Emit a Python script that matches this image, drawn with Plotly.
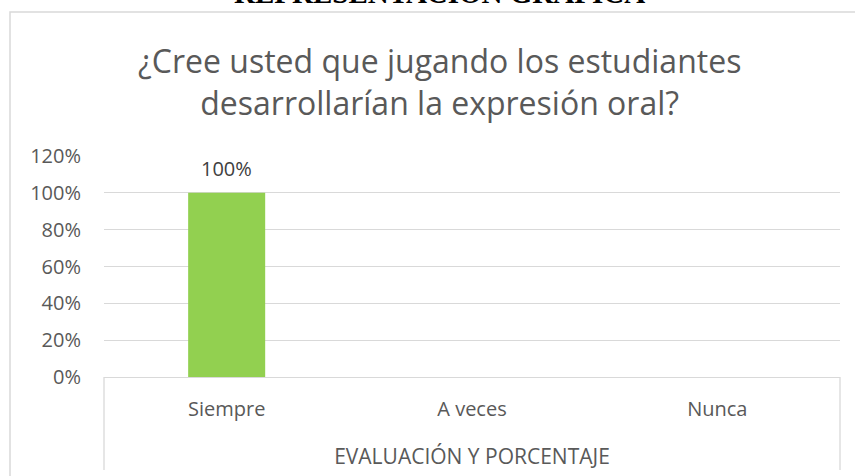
import plotly.graph_objects as go

categorias = ["Siempre", "A veces", "Nunca"]
porcentajes = [1.00, None, None]
ticks_y = [0, 0.2, 0.4, 0.6, 0.8, 1.0, 1.2]
ticks_txt = ["0%", "20%", "40%", "60%", "80%", "100%", "120%"]

W, H = 855, 476
L, R, T, B = 104, 15, 156, 99
pw, ph = W - L - R, H - T - B

def px(x):
    return (x - L) / pw

def py(y):
    return (H - B - y) / ph

GRIS = "#d9d9d9"
FUENTE = "Open Sans, Noto Sans, sans-serif"

fig = go.Figure(go.Bar(
    x=categorias, y=porcentajes,
    marker=dict(color="#92d050", line=dict(width=0)),
    width=0.314,
    cliponaxis=False,
))

# value labels above the bars
for cat, val in zip(categorias, porcentajes):
    if val is None:
        continue
    fig.add_annotation(
        x=cat, y=val, xref="x", yref="y", text=f"{val:.0%}",
        showarrow=False, yanchor="bottom", yshift=9,
        font=dict(size=20, color="#404040", family=FUENTE),
    )

fig.update_layout(
    width=W, height=H,
    margin=dict(l=L, r=R, t=T, b=B, pad=0),
    paper_bgcolor="white", plot_bgcolor="white",
    showlegend=False,
    font=dict(family=FUENTE, color="#595959"),
    xaxis=dict(showgrid=False, showline=False, zeroline=False, ticks="",
               tickfont=dict(size=20, color="#595959"), ticklabelstandoff=18,
               title=dict(text="EVALUACIÓN Y PORCENTAJE",
                          font=dict(size=21, color="#595959"), standoff=28)),
    yaxis=dict(range=[0, 1.2], tickvals=ticks_y, ticktext=ticks_txt,
               showgrid=True, gridcolor=GRIS, gridwidth=1,
               zeroline=True, zerolinecolor=GRIS, zerolinewidth=1.3,
               showline=False, ticks="", ticklabelstandoff=22,
               tickfont=dict(size=20, color="#595959")),
    bargap=0.686,
)

# chart title (two lines)
fig.add_annotation(
    text="¿Cree usted que jugando los estudiantes<br>desarrollarían la expresión oral?",
    xref="paper", yref="paper", x=px(439), y=py(81),
    xanchor="center", yanchor="middle", showarrow=False,
    font=dict(size=32, color="#595959", family=FUENTE),
)

# heading of the page, partly cut off at the top edge
fig.add_annotation(
    text="<b>REPRESENTACIÓN GRÁFICA</b>",
    xref="paper", yref="paper", x=px(439), y=py(-7),
    xanchor="center", yanchor="middle", showarrow=False,
    font=dict(size=29, color="#000000", family="Liberation Serif, serif"),
)

# chart-area frame
fig.add_shape(type="rect", xref="paper", yref="paper",
              x0=px(10), x1=px(870), y0=py(490), y1=py(12),
              line=dict(color=GRIS, width=1.5), layer="below")

# category axis boundary lines
for xv in (104, 840):
    fig.add_shape(type="line", xref="paper", yref="paper",
                  x0=px(xv), x1=px(xv), y0=py(377), y1=py(470),
                  line=dict(color=GRIS, width=1.3))

fig.write_html("out.html")
